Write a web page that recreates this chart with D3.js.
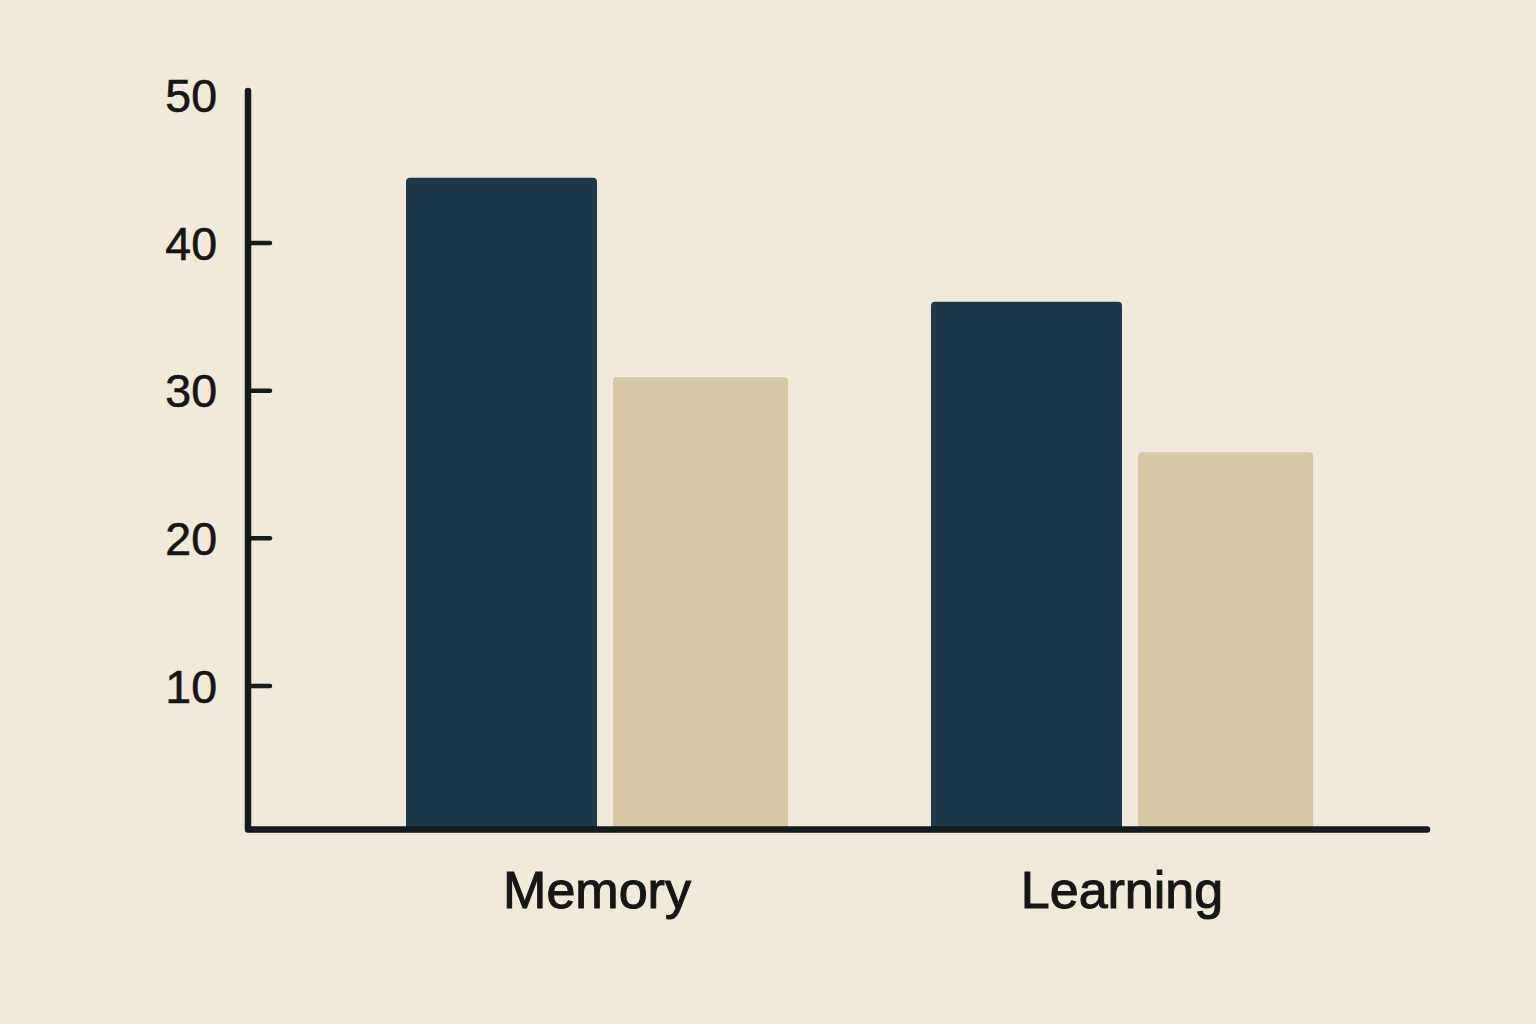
<!DOCTYPE html>
<html>
<head>
<meta charset="utf-8">
<script src="https://cdn.jsdelivr.net/npm/d3@7"></script>
<style>
  html, body { margin: 0; padding: 0; background: #f1e9da; }
  svg { display: block; }
</style>
</head>
<body>
<script>
// chart data
var categories = ["Memory", "Learning"];
var darkValues = [44.4, 36.0];
var tanValues = [30.9, 25.8];
var yTicks = [10, 20, 30, 40, 50];

function main(){
  var w = 1536;
  var h = 1024;

  var svg = d3.select("body")
              .append("svg")
              .attr("width", w)
              .attr("height", h);

  svg.append("rect")
    .attr("width", w)
    .attr("height", h)
    .attr("fill", "#f1e9da");

  //scales
  var y = d3.scaleLinear().domain([0, 50]).range([833, 95]);
  var x = d3.scalePoint().domain(categories).range([334.5, 1384.5]).padding(0.5);

  var axisX = 248;
  var axisY = 829.5;
  var darkW = 191, tanW = 175, gap = 16;

  //bar path with rounded top corners only
  function barPath(x0, x1, top, bottom, r){
    return "M" + x0 + "," + bottom +
      "V" + (top + r) +
      "Q" + x0 + "," + top + " " + (x0 + r) + "," + top +
      "H" + (x1 - r) +
      "Q" + x1 + "," + top + " " + x1 + "," + (top + r) +
      "V" + bottom + "Z";
  }

  var bars = svg.append("g");

  bars.selectAll("path.dark")
    .data(categories)
    .enter()
    .append("path")
    .attr("class", "dark")
    .attr("fill", "#1c3849")
    .attr("d", function(d, i){
      var c = x(d);
      return barPath(c - darkW, c, y(darkValues[i]), axisY, 4);
    });

  bars.selectAll("path.tan")
    .data(categories)
    .enter()
    .append("path")
    .attr("class", "tan")
    .attr("fill", "#d8c9a4")
    .attr("d", function(d, i){
      var c = x(d);
      return barPath(c + gap, c + gap + tanW, y(tanValues[i]), axisY, 4);
    });

  //y axis ticks and labels
  var yAxis = d3.axisLeft(y)
    .tickValues(yTicks)
    .tickSizeInner(-22)
    .tickSizeOuter(0)
    .tickPadding(31)
    .tickFormat(d3.format("d"));

  var gy = svg.append("g")
    .attr("transform", "translate(" + axisX + ",0)")
    .call(yAxis);

  gy.select(".domain").remove();
  gy.selectAll(".tick line")
    .attr("stroke", "#151a1d")
    .attr("stroke-width", 4.5)
    .attr("stroke-linecap", "round")
    .filter(function(d){ return d === 50; })
    .remove();
  gy.selectAll(".tick text")
    .attr("fill", "#161616")
    .attr("font-family", "'Liberation Sans', Arial, sans-serif")
    .attr("font-size", 46.5)
    .attr("stroke", "#161616")
    .attr("stroke-width", 0.6)
    .attr("dy", "0.36em");

  //axis lines
  svg.append("path")
    .attr("d", "M" + axisX + "," + 91 + "V" + axisY + "H" + 1427)
    .attr("fill", "none")
    .attr("stroke", "#151a1d")
    .attr("stroke-width", 6.5)
    .attr("stroke-linejoin", "round")
    .attr("stroke-linecap", "round");

  //category labels
  svg.selectAll("text.cat")
    .data(categories)
    .enter()
    .append("text")
    .attr("class", "cat")
    .attr("x", function(d){ return x(d); })
    .attr("y", 908)
    .attr("text-anchor", "middle")
    .attr("fill", "#161616")
    .attr("font-family", "'Liberation Sans', Arial, sans-serif")
    .attr("font-size", 52)
    .attr("stroke", "#161616")
    .attr("stroke-width", 1.1)
    .text(function(d){ return d; });
}

window.onload = function() {
  main();
};
</script>
</body>
</html>
